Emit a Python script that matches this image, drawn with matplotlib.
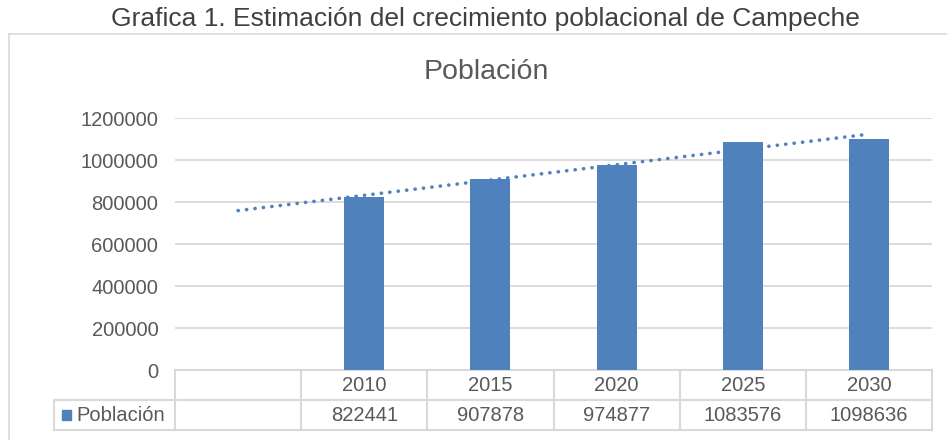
import numpy as np
import matplotlib
matplotlib.use("Agg")
import matplotlib.pyplot as plt
from matplotlib.lines import Line2D
from matplotlib.patches import Rectangle
from matplotlib.transforms import blended_transform_factory

plt.rcParams['font.family'] = ['Liberation Sans', 'DejaVu Sans']

categories = ["", "2010", "2015", "2020", "2025", "2030"]
poblacion = [np.nan, 822441, 907878, 974877, 1083576, 1098636]
table_values = ["", "822441", "907878", "974877", "1083576", "1098636"]
yticks = [0, 200000, 400000, 600000, 800000, 1000000, 1200000]
series_name = "Población"
main_title = "Grafica 1. Estimación del crecimiento poblacional de Campeche"
chart_title = "Población"

W, H = 947, 440
fig = plt.figure(figsize=(W / 100, H / 100), dpi=100)
fig.patch.set_facecolor("white")

def fx(px):
    return px / W

def fy(py):
    return 1 - py / H

BLUE = "#4F81BD"
GRID = "#D9D9D9"
TXT = "#595959"

# chart area border
fig.add_artist(Line2D([fx(9), fx(9)], [fy(34), fy(445)], color=GRID, lw=1.2))
fig.add_artist(Line2D([fx(9), fx(950)], [fy(34), fy(34)], color=GRID, lw=1.2))

fig.text(fx(485), fy(19), main_title, ha="center", va="center", fontsize=19, color="#404040")
fig.text(fx(486), fy(72), chart_title, ha="center", va="center", fontsize=20.5, color=TXT)

ax_l, ax_r, ax_t, ax_b = 175, 932, 118, 370
ax = fig.add_axes([fx(ax_l), fy(ax_b), (ax_r - ax_l) / W, (ax_b - ax_t) / H])
x = np.arange(len(categories))
vals = np.array(poblacion, dtype=float)
ax.bar(x, vals, width=0.317, color=BLUE, zorder=3)

# linear trendline (Excel style, over category index)
mask = ~np.isnan(vals)
coef = np.polyfit(x[mask], vals[mask], 1)
xt = np.array([x[0], x[-1]], dtype=float)
ax.plot(xt, np.polyval(coef, xt), color=BLUE, lw=2.6, linestyle=(0, (0.05, 2.3)),
        dash_capstyle="round", zorder=4)

ax.set_xlim(-0.5, len(categories) - 0.5)
ax.set_ylim(0, 1200000)
ax.set_yticks(yticks)
ax.set_yticklabels([str(v) for v in yticks])
ax.tick_params(axis="y", length=0, pad=12, labelsize=14.5, labelcolor=TXT)
ax.set_xticks([])
for s in ax.spines.values():
    s.set_visible(False)
ax.grid(axis="y", color=GRID, lw=1.3, zorder=0)
ax.set_axisbelow(True)

# data table
tr = blended_transform_factory(ax.transData, fig.transFigure)
row1_top, row1_bot, row2_bot = 370, 400, 430
ax.add_line(Line2D([-0.5, len(categories) - 0.5], [fy(row1_top)] * 2, transform=tr,
                   color=GRID, lw=1.5, clip_on=False))
for xb in np.arange(-0.5, len(categories), 1.0):
    ax.add_line(Line2D([xb, xb], [fy(row1_top), fy(row2_bot)], transform=tr,
                       color=GRID, lw=1.5, clip_on=False))
fig.add_artist(Line2D([fx(54), fx(ax_r)], [fy(row1_bot)] * 2, color=GRID, lw=1.5))
fig.add_artist(Line2D([fx(54), fx(ax_r)], [fy(row2_bot)] * 2, color=GRID, lw=1.5))
fig.add_artist(Line2D([fx(54), fx(54)], [fy(row1_bot), fy(row2_bot)], color=GRID, lw=1.5))

for xi, cat, v in zip(x, categories, table_values):
    ax.text(xi, fy(385), cat, transform=tr, ha="center", va="center", fontsize=14.5, color=TXT)
    ax.text(xi, fy(415), v, transform=tr, ha="center", va="center", fontsize=14.5, color=TXT)

fig.add_artist(Rectangle((fx(62), fy(420)), 9 / W, 10 / H, color=BLUE))
fig.text(fx(76), fy(415), series_name, ha="left", va="center", fontsize=14.5, color=TXT)

fig.savefig("out.png", dpi=100)
